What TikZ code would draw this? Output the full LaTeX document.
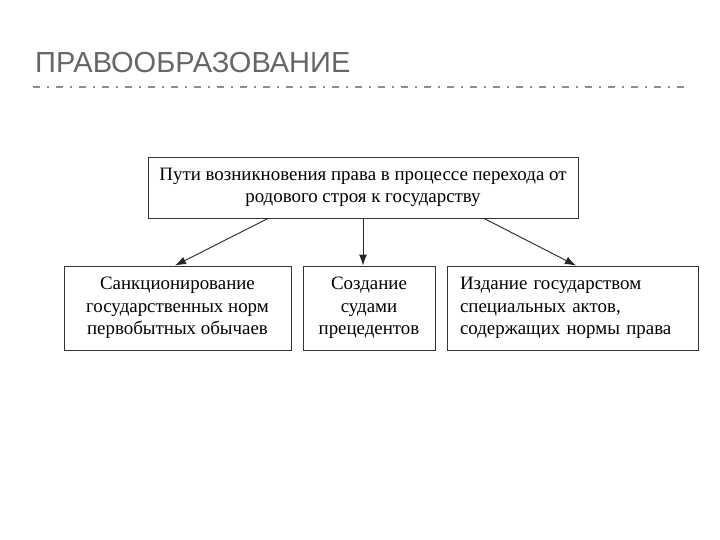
\documentclass[tikz,border=0pt]{standalone}
\usepackage{fontspec}
\setmainfont{Liberation Serif}
\newfontfamily\titlefont{Liberation Sans}
\usetikzlibrary{arrows.meta}
\definecolor{titlegray}{HTML}{666666}
\definecolor{rulegray}{HTML}{8C8C8C}
\tikzset{
    box/.style={draw=black!80, line width=0.9pt, inner sep=0pt, minimum height=61pt,
        font=\fontsize{18.9}{22.5}\selectfont},
    lowbox/.style={box, minimum height=84pt},
    arr/.style={->,> = {Latex[length=11pt,width=8pt]}, draw=black!85, line width=0.9pt},
    title/.style={anchor=base west, inner sep=0pt, text=titlegray,
        font=\titlefont\fontsize{29}{30}\selectfont},
}

\begin{document}
\begin{tikzpicture}[x=1pt,y=-1pt]
    \useasboundingbox[fill=white] (0,0) rectangle (720,540);
    \node[title] (head) at (35,73) {ПРАВООБРАЗОВАНИЕ};
    \coordinate (ruleL) at (33,87);
    \coordinate (ruleR) at (688,87);
    \draw[rulegray, line width=2pt, dash pattern=on 7pt off 7pt on 2pt off 7pt] (ruleL) -- (ruleR);
    \node[box, minimum width=430pt, align=center] (ways) at (363,187.5)
        {Пути возникновения права в процессе перехода от\\родового строя к государству};
    \node[lowbox, minimum width=227pt, align=center] (sanct) at (177.5,308)
        {Санкционирование\\государственных норм\\первобытных обычаев};
    \node[lowbox, minimum width=132pt, align=center] (court) at (369,308)
        {Создание\\судами\\прецедентов};
    \node[lowbox, minimum width=251pt, text width=225pt, align=left] (state) at (572.5,308)
        {Издание государством\\специальных актов,\\содержащих нормы права};
    \draw[arr] (ways.south -| 268,0) -- (sanct.north -| 175,0);
    \draw[arr] (ways.south -| 363,0) -- (court.north -| 363,0);
    \draw[arr] (ways.south -| 484,0) -- (state.north -| 576,0);
\end{tikzpicture}
\end{document}
